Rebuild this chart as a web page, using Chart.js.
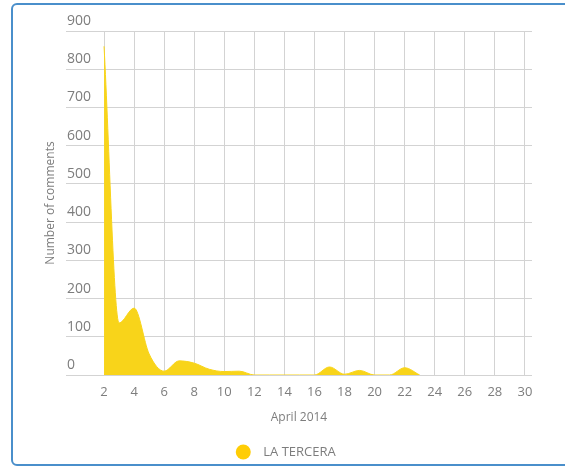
<!DOCTYPE html>
<html>
<head>
<meta charset="utf-8">
<script src="https://cdn.jsdelivr.net/npm/chart.js@4/dist/chart.umd.min.js"></script>
<style>
  html, body { margin: 0; padding: 0; background: #fff; }
  #wrap { position: relative; width: 565px; height: 467px; overflow: hidden; }
  #frame {
    position: absolute; left: 11px; top: 3px; width: 580px; height: 463px;
    border: 2px solid #4a8fcb; border-radius: 6px; box-sizing: border-box;
    pointer-events: none;
  }
  canvas { position: absolute; left: 0; top: 0; }
</style>
</head>
<body>
<div id="wrap">
  <canvas id="c" width="565" height="467"></canvas>
  <div id="frame"></div>
</div>
<script>
// Daily comment counts, April 2014
const days = [2, 3, 4, 5, 6, 7, 8, 9, 10, 11, 12, 13, 14, 15, 16, 17, 18, 19, 20, 21, 22, 23];
const comments = [860, 136, 175, 55, 10, 37, 31, 15, 9, 10, 0, 0, 0, 0, 0, 21, 2, 12, 0, 0, 19, 0];
const dayTicks = [2, 4, 6, 8, 10, 12, 14, 16, 18, 20, 22, 24, 26, 28, 30];
const commentTicks = [0, 100, 200, 300, 400, 500, 600, 700, 800, 900];
const seriesName = 'LA TERCERA';

const FONT = "'Open Sans', 'DejaVu Sans Condensed', sans-serif";
const TEXT = '#7d7d7d';
const GRID = '#d3d3d3';
const YELLOW = '#f8d41a';
const MARKER = '#ffcd05';

// Single-entry legend below the axis title: round marker + series name
const bottomLegend = {
  id: 'bottomLegend',
  afterDraw(chart) {
    const ctx = chart.ctx;
    const cy = 452;
    const name = chart.data.datasets[0].label;
    ctx.save();
    ctx.font = `13px ${FONT}`;
    const tw = ctx.measureText(name).width;
    const total = 16 + 12 + tw;
    const x0 = (chart.width - total) / 2 + 3;
    ctx.fillStyle = MARKER;
    ctx.beginPath();
    ctx.arc(x0 + 8, cy, 7.5, 0, Math.PI * 2);
    ctx.fill();
    ctx.fillStyle = TEXT;
    ctx.textBaseline = 'middle';
    ctx.textAlign = 'left';
    ctx.fillText(name, x0 + 28, cy);
    ctx.restore();
  }
};

new Chart(document.getElementById('c'), {
  type: 'line',
  data: {
    datasets: [{
      label: seriesName,
      data: days.map((d, i) => ({ x: d, y: comments[i] })),
      backgroundColor: YELLOW,
      borderColor: YELLOW,
      borderWidth: 1,
      fill: 'origin',
      pointRadius: 0,
      cubicInterpolationMode: 'monotone'
    }]
  },
  plugins: [bottomLegend],
  options: {
    responsive: false,
    animation: false,
    layout: { padding: { top: 31, right: 33, left: 0, bottom: 37 } },
    plugins: {
      tooltip: { enabled: false },
      legend: { display: false }
    },
    scales: {
      x: {
        type: 'linear',
        min: -0.53,
        max: 30.47,
        afterBuildTicks: (s) => { s.ticks = dayTicks.map(v => ({ value: v })); },
        afterFit: (s) => { s.height = 55; },
        grid: { color: GRID, drawTicks: false },
        border: { display: false },
        ticks: {
          color: TEXT,
          font: { family: FONT, size: 13 },
          padding: 9,
          maxRotation: 0,
          autoSkip: false
        },
        title: {
          display: true,
          text: 'April 2014',
          color: TEXT,
          font: { family: FONT, size: 12 },
          padding: { top: 0, bottom: 5 }
        }
      },
      y: {
        min: 0,
        max: 900,
        afterBuildTicks: (s) => { s.ticks = commentTicks.map(v => ({ value: v })); },
        afterFit: (s) => { s.width = 66; },
        grid: { color: GRID, drawTicks: false },
        border: { display: false },
        ticks: {
          mirror: true,
          padding: 1,
          labelOffset: -10,
          color: TEXT,
          font: { family: FONT, size: 14 }
        },
        title: {
          display: true,
          text: 'Number of comments',
          color: TEXT,
          font: { family: FONT, size: 12 },
          padding: { top: 43, bottom: 0 }
        }
      }
    }
  }
});
</script>
</body>
</html>
